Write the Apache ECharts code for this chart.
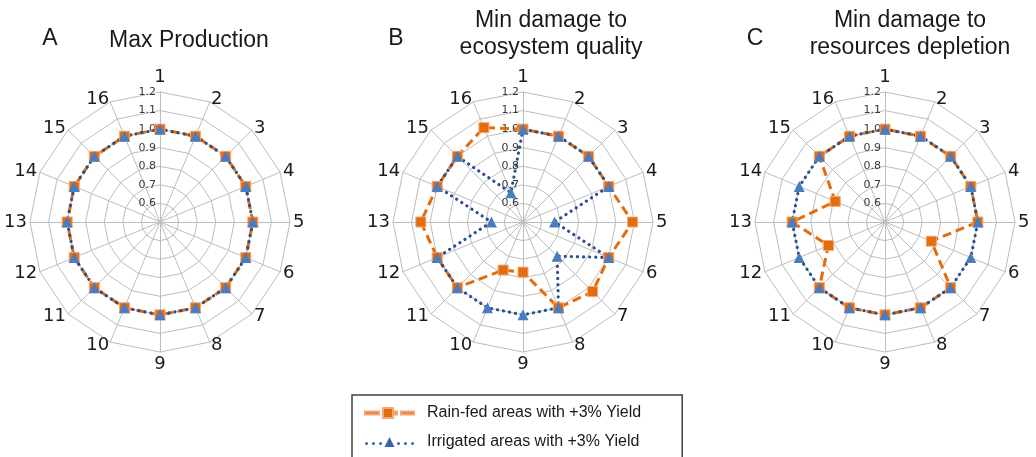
<!DOCTYPE html>
<html>
<head>
<meta charset="utf-8">
<script src="https://cdn.jsdelivr.net/npm/echarts@6/dist/echarts.min.js"></script>
<style>html,body{margin:0;padding:0;background:#fff}#c{width:1036px;height:457px}</style>
</head>
<body>
<div id="c"></div>
<script>
// Axes 1..16 (clockwise from top)
const categories = ['1','2','3','4','5','6','7','8','9','10','11','12','13','14','15','16'];
const tickLabels = ['0.6','0.7','0.8','0.9','1.0','1.1','1.2'];
const seriesNames = ['Rain-fed areas with +3% Yield', 'Irrigated areas with +3% Yield'];
const panelLetters = ['A', 'B', 'C'];
const panelTitles = ['Max Production', 'Min damage to\necosystem quality', 'Min damage to\nresources depletion'];

// Panel A: Max Production
const rainA = [1.0,1.0,1.0,1.0,1.0,1.0,1.0,1.0,1.0,1.0,1.0,1.0,1.0,1.0,1.0,1.0];
const irrA  = [1.0,1.0,1.0,1.0,1.0,1.0,1.0,1.0,1.0,1.0,1.0,1.0,1.0,1.0,1.0,1.0];
// Panel B: Min damage to ecosystem quality
const rainB = [1.0,1.0,1.0,1.0,1.09,1.0,1.03,1.0,0.77,0.78,1.0,1.0,1.05,1.0,1.0,1.05];
const irrB  = [1.0,1.0,1.0,1.0,0.67,1.0,0.76,1.0,1.0,1.0,1.0,1.0,0.67,1.0,1.0,0.67];
// Panel C: Min damage to resources depletion
const rainC = [1.0,1.0,1.0,1.0,1.0,0.77,1.0,1.0,1.0,1.0,1.0,0.83,1.0,0.79,1.0,1.0];
const irrC  = [1.0,1.0,1.0,1.0,1.0,1.0,1.0,1.0,1.0,1.0,1.0,1.0,1.0,1.0,1.0,1.0];

const axisMin = 0.5, axisMax = 1.2;
const centersX = [160, 523, 885];
const centerY = 222;
const radius = 130;

const ORANGE = '#E46C0A';
const BLUE_LINE = '#2A4F8F';
const BLUE_MARK = '#4A7CC0';

// ECharts radar runs counter-clockwise; reorder so axes go clockwise
const order = [0].concat(categories.slice(1).map((_, i) => categories.length - 1 - i));
const reorder = arr => order.map(i => arr[i]);

const indicators = order.map((idx, k) => {
  const ind = { name: categories[idx], min: axisMin, max: axisMax };
  if (k === 0) {
    ind.axisLabel = {
      show: true, fontSize: 11, color: '#3a3a3a', fontFamily: 'DejaVu Sans', margin: 4,
      formatter: v => { const s = Number(v).toFixed(1); return tickLabels.indexOf(s) >= 0 ? s : ''; }
    };
  }
  return ind;
});

const radars = centersX.map(cx => ({
  center: [cx, centerY], radius: radius, startAngle: 90, shape: 'polygon', splitNumber: 7,
  indicator: indicators,
  axisName: { color: '#1a1a1a', fontSize: 18, fontFamily: 'DejaVu Sans' },
  nameGap: 3,
  axisLine: { lineStyle: { color: '#bdbdbd', width: 1 } },
  splitLine: { lineStyle: { color: '#bdbdbd', width: 1 } },
  splitArea: { show: false },
  axisTick: { show: false },
  axisLabel: { show: false }
}));

const panels = [[rainA, irrA], [rainB, irrB], [rainC, irrC]];
const series = panels.map((p, i) => ({
  type: 'radar', radarIndex: i, z: 2,
  data: [
    { name: seriesNames[0], value: reorder(p[0]), symbol: 'rect', symbolSize: 10,
      lineStyle: { color: ORANGE, width: 3, type: [9, 5] },
      itemStyle: { color: ORANGE, borderColor: '#F2A77A', borderWidth: 1 } },
    { name: seriesNames[1], value: reorder(p[1]), symbol: 'triangle', symbolSize: 11,
      lineStyle: { color: BLUE_LINE, width: 3.2, type: [0.1, 6], cap: 'round' },
      itemStyle: { color: BLUE_MARK } }
  ]
}));

const titles = [];
const letterX = [50, 396, 755];
const titleX = [189, 551, 910];
for (let i = 0; i < 3; i++) {
  titles.push({ text: panelLetters[i], left: letterX[i], top: 27, textAlign: 'center', padding: 0,
    textStyle: { fontFamily: 'Liberation Sans', fontSize: 23, fontWeight: 'normal', color: '#1a1a1a' } });
  const twoLine = panelTitles[i].indexOf('\n') >= 0;
  titles.push({ text: panelTitles[i], left: titleX[i], top: twoLine ? 7 : 27, textAlign: 'center', padding: 0,
    textStyle: { fontFamily: 'Liberation Sans', fontSize: 23, fontWeight: 'normal', color: '#1a1a1a', lineHeight: 27 } });
}

const chart = echarts.init(document.getElementById('c'), null, { renderer: 'canvas' });
chart.setOption({
  animation: false,
  backgroundColor: '#ffffff',
  title: titles,
  radar: radars,
  legend: {
    orient: 'horizontal', left: 352, top: 395, width: 292,
    padding: [10, 41, 20, 12], itemGap: 13,
    itemWidth: 49, itemHeight: 10, symbolKeepAspect: false,
    borderColor: '#404040', borderWidth: 1.5,
    textStyle: { fontFamily: 'Liberation Sans', fontSize: 16, color: '#1a1a1a', padding: [0, 0, 0, 8] },
    data: [
      { name: seriesNames[0], icon: 'path://M0,3.5H14V6.5H0Z M18,0H28V10H18Z M29,3.5H32V6.5H29Z M36,3.5H49V6.5H36Z',
        itemStyle: { color: ORANGE } },
      { name: seriesNames[1], icon: 'path://M0,6.5a1.5,1.5 0 1,0 3,0a1.5,1.5 0 1,0 -3,0Z M7,6.5a1.5,1.5 0 1,0 3,0a1.5,1.5 0 1,0 -3,0Z M14,6.5a1.5,1.5 0 1,0 3,0a1.5,1.5 0 1,0 -3,0Z M19.5,10L24.5,0L29.5,10Z M32,6.5a1.5,1.5 0 1,0 3,0a1.5,1.5 0 1,0 -3,0Z M39,6.5a1.5,1.5 0 1,0 3,0a1.5,1.5 0 1,0 -3,0Z M46,6.5a1.5,1.5 0 1,0 3,0a1.5,1.5 0 1,0 -3,0Z',
        itemStyle: { color: '#3A63A8' } }
    ]
  },
  series: series
});
</script>
</body>
</html>
